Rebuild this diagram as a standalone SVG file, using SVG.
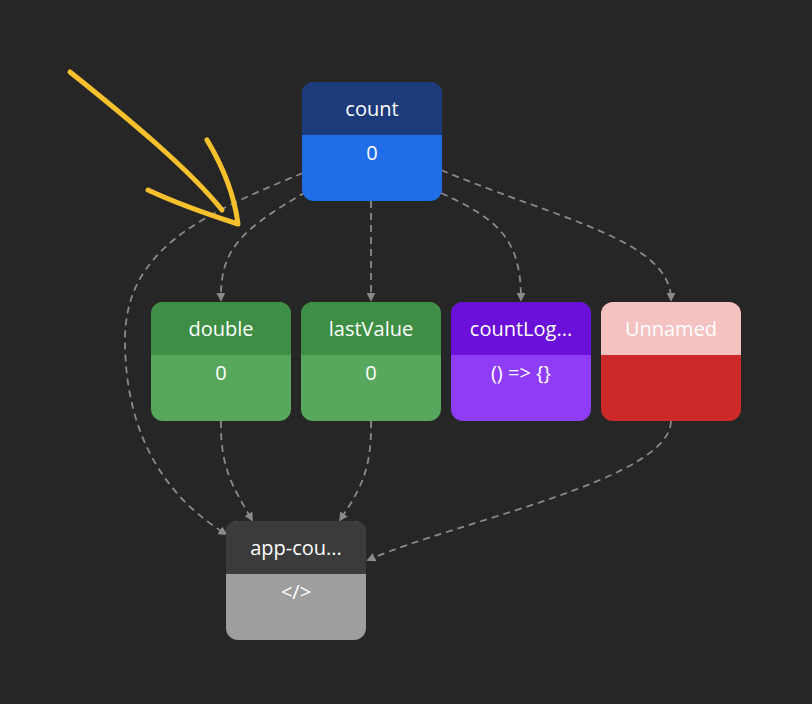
<svg xmlns="http://www.w3.org/2000/svg" width="812" height="704" viewBox="0 0 812 704">
<defs>
<marker id="ar" viewBox="0 0 10 10" refX="8" refY="5" markerWidth="5" markerHeight="5" orient="auto"><path d="M0,0 L10,5 L0,10 z" fill="#8a8a8a"/></marker>
<clipPath id="c"><rect width="140" height="119" rx="12"/></clipPath>
</defs>
<style>
.e{fill:none;stroke:#8a8a8a;stroke-width:1.8;stroke-dasharray:7 5;marker-end:url(#ar)}
text{font-family:"Open Sans","Noto Sans",sans-serif;font-size:20px;fill:#fff;text-anchor:middle}
</style>
<rect width="812" height="704" fill="#262626"/>
<g id="connectors">
<path class="e" d="M303,173 C200,215 125,250 125,340 C125,440 170,500 226,534"/>
<path class="e" d="M306,192 C240,230 220,250 221,300"/>
<path class="e" d="M371,201 L371,300"/>
<path class="e" d="M441,193 C500,220 521,240 521,300"/>
<path class="e" d="M441,170 C560,220 671,240 671,300"/>
<path class="e" d="M221,421 C220,470 235,490 252,520"/>
<path class="e" d="M371,421 C372,470 360,490 340,520"/>
<path class="e" d="M671,421 C670,480 460,520 368,560"/>
</g>
<g id="count" transform="translate(302,82)"><g clip-path="url(#c)"><rect width="140" height="119" fill="#1f6ee8"/><rect width="140" height="53" fill="#1c3b7a"/></g><text x="70" y="34">count</text><text x="70" y="78">0</text></g>
<g id="double" transform="translate(151,302)"><g clip-path="url(#c)"><rect width="140" height="119" fill="#57a85c"/><rect width="140" height="53" fill="#3e8f45"/></g><text x="70" y="34">double</text><text x="70" y="78">0</text></g>
<g id="lastValue" transform="translate(301,302)"><g clip-path="url(#c)"><rect width="140" height="119" fill="#57a85c"/><rect width="140" height="53" fill="#3e8f45"/></g><text x="70" y="34">lastValue</text><text x="70" y="78">0</text></g>
<g id="countLog" transform="translate(451,302)"><g clip-path="url(#c)"><rect width="140" height="119" fill="#8e3cf6"/><rect width="140" height="53" fill="#6a10d8"/></g><text x="70" y="34">countLog...</text><text x="70" y="78">() =&gt; {}</text></g>
<g id="Unnamed" transform="translate(601,302)"><g clip-path="url(#c)"><rect width="140" height="119" fill="#cc2a2a"/><rect width="140" height="53" fill="#f5c2c2"/></g><text x="70" y="34">Unnamed</text></g>
<g id="app" transform="translate(226,521)"><g clip-path="url(#c)"><rect width="140" height="119" fill="#9e9e9e"/><rect width="140" height="53" fill="#3b3b3b"/></g><text x="70" y="34">app-cou...</text><text x="70" y="78">&lt;/&gt;</text></g>
<g id="annotation" fill="none" stroke="#f6c12c" stroke-width="5" stroke-linecap="round" stroke-linejoin="round">
<path d="M70,72 C130,120 190,170 222,210"/>
<path d="M207,140 C225,170 235,200 238,224 C210,215 180,205 148,190"/>
</g>
</svg>
